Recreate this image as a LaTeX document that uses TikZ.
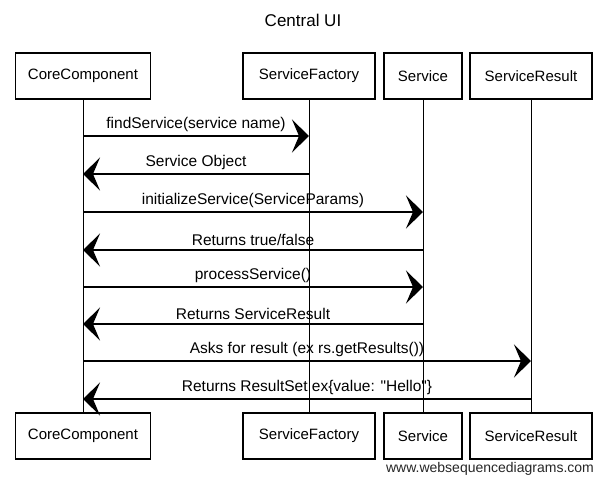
\documentclass[tikz,border=0pt]{standalone}
\usepackage{fontspec}
\setmainfont{Liberation Sans}
\usetikzlibrary{arrows.meta,calc}
\tikzset{
  actor/.style={draw=black, line width=1.2pt, minimum height=46pt, inner sep=0pt, font=\fontsize{15}{18}\selectfont, fill=white},
  life/.style={draw=black, line width=0.9pt},
  msg/.style={draw=black, line width=1.3pt, -{Stealth[length=17pt, width=33pt, inset=7pt]}},
  lbl/.style={midway, above, inner sep=0pt, yshift=4pt, font=\fontsize{15.5}{18}\selectfont}
}
\begin{document}
\begin{tikzpicture}[x=1pt, y=-1pt]
\useasboundingbox (0,0) rectangle (606,483);
\node[font=\fontsize{17}{20}\selectfont] (title) at (303,20) {Central UI};
% top actors
\node[actor, minimum width=135pt] (cc) at (83,76) {CoreComponent};
\node[actor, minimum width=132pt] (sf) at (309,76) {ServiceFactory};
\node[actor, minimum width=78pt] (sv) at (423,76) {Service};
\node[actor, minimum width=122pt] (sr) at (531,76) {ServiceResult};
% bottom actors
\node[actor, minimum width=135pt] (cc2) at (83,436) {CoreComponent};
\node[actor, minimum width=132pt] (sf2) at (309,436) {ServiceFactory};
\node[actor, minimum width=78pt] (sv2) at (423,436) {Service};
\node[actor, minimum width=122pt] (sr2) at (531,436) {ServiceResult};
% lifelines
\draw[life] (cc.south) -- (cc2.north);
\draw[life] (sf.south) -- (sf2.north);
\draw[life] (sv.south) -- (sv2.north);
\draw[life] (sr.south) -- (sr2.north);
% message end points
\coordinate (a1) at (cc |- 0,136); \coordinate (b1) at (sf |- 0,136);
\coordinate (a2) at (cc |- 0,174); \coordinate (b2) at (sf |- 0,174);
\coordinate (a3) at (cc |- 0,212); \coordinate (b3) at (sv |- 0,212);
\coordinate (a4) at (cc |- 0,250); \coordinate (b4) at (sv |- 0,250);
\coordinate (a5) at (cc |- 0,287); \coordinate (b5) at (sv |- 0,287);
\coordinate (a6) at (cc |- 0,324); \coordinate (b6) at (sv |- 0,324);
\coordinate (a7) at (cc |- 0,361); \coordinate (b7) at (sr |- 0,361);
\coordinate (a8) at (cc |- 0,399); \coordinate (b8) at (sr |- 0,399);
% messages
\draw[msg] (a1) -- (b1) node[lbl] {findService(service name)};
\draw[msg] (b2) -- (a2) node[lbl] {Service Object};
\draw[msg] (a3) -- (b3) node[lbl] {initializeService(ServiceParams)};
\draw[msg] (b4) -- (a4) node[lbl] {Returns true/false};
\draw[msg] (a5) -- (b5) node[lbl] {processService()};
\draw[msg] (b6) -- (a6) node[lbl] {Returns ServiceResult};
\draw[msg] (a7) -- (b7) node[lbl] {Asks for result (ex rs.getResults())};
\draw[msg] (b8) -- (a8) node[lbl] {Returns ResultSet ex\{value: \textquotedbl Hello\textquotedbl\}};
% watermark
\node[font=\fontsize{14}{16}\selectfont, text=black!85] (wm) at (490,469) {www.websequencediagrams.com};
\end{tikzpicture}
\end{document}
